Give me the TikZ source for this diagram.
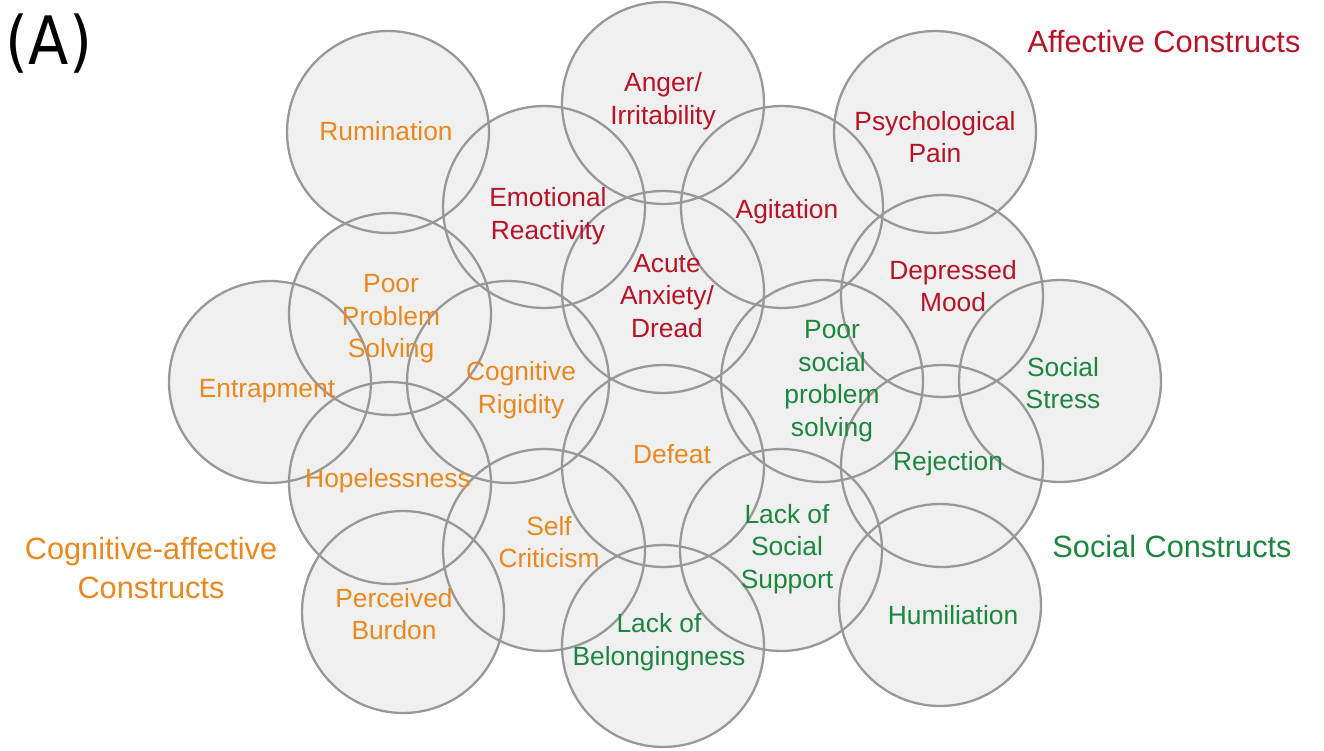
\documentclass[tikz,border=0pt]{standalone}
\usepackage{fontspec}
\setmainfont{Liberation Sans}
\newfontfamily\panelfont{DejaVu Sans}[FakeStretch=0.88]
\usetikzlibrary{positioning, backgrounds}

\definecolor{affred}{RGB}{184,18,38}
\definecolor{cogorange}{RGB}{234,136,32}
\definecolor{socgreen}{RGB}{28,134,62}
\definecolor{ringgray}{RGB}{152,152,152}
\definecolor{bubblefill}{RGB}{240,240,240}

\begin{document}
\begin{tikzpicture}[x=0.02cm, y=-0.02cm,
    bubble/.style={circle, draw=ringgray, line width=1.3pt, minimum size=4.04cm, inner sep=0pt},
    afftxt/.style={text=affred, align=center, font=\fontsize{15}{18.5}\selectfont},
    cogtxt/.style={text=cogorange, align=center, font=\fontsize{15}{18.5}\selectfont},
    soctxt/.style={text=socgreen, align=center, font=\fontsize{15}{18.5}\selectfont},
    grouptxt/.style={align=center, font=\fontsize{17.5}{22}\selectfont}]
    \useasboundingbox (0,0) rectangle (1324,750);

    % circles
    \node[bubble] (rum) at (388,132) {};
    \node[bubble] (ang) at (663,103) {};
    \node[bubble] (psy) at (935,132) {};
    \node[bubble] (emo) at (544,207) {};
    \node[bubble] (agi) at (782,207) {};
    \node[bubble] (anx) at (663,292) {};
    \node[bubble] (dep) at (942,296) {};
    \node[bubble] (pps) at (390,314) {};
    \node[bubble] (rig) at (508,382) {};
    \node[bubble] (ent) at (270,382) {};
    \node[bubble] (psp) at (822,381) {};
    \node[bubble] (str) at (1060,381) {};
    \node[bubble] (def) at (663,466) {};
    \node[bubble] (rej) at (942,466) {};
    \node[bubble] (hop) at (390,483) {};
    \node[bubble] (sel) at (544,550) {};
    \node[bubble] (sup) at (781,550) {};
    \node[bubble] (bur) at (403,612) {};
    \node[bubble] (bel) at (663,646) {};
    \node[bubble] (hum) at (940,605) {};

    \begin{scope}[on background layer]
      \foreach \c in {rum,ang,psy,emo,agi,anx,dep,pps,rig,ent,psp,str,def,rej,hop,sel,sup,bur,bel,hum}
        \fill[bubblefill] (\c.center) circle[radius=2.02cm];
    \end{scope}

    % affective
    \node[afftxt] (angt) at (663,101) {Anger/\\Irritability};
    \node[afftxt] (psyt) at (935,137) {Psychological\\Pain};
    \node[afftxt] (emot) at (548,216) {Emotional\\Reactivity};
    \node[afftxt] (agit) at (787,212) {Agitation};
    \node[afftxt] (anxt) at (667,296) {Acute\\Anxiety/\\Dread};
    \node[afftxt] (dept) at (953,286) {Depressed\\Mood};

    % cognitive-affective
    \node[cogtxt] (rumt) at (386,131) {Rumination};
    \node[cogtxt] (ppst) at (391,319) {Poor\\Problem\\Solving};
    \node[cogtxt] (rigt) at (521,390) {Cognitive\\Rigidity};
    \node[cogtxt] (entt) at (267,391) {Entrapment};
    \node[cogtxt] (deft) at (672,454) {Defeat};
    \node[cogtxt] (hopt) at (388,481) {Hopelessness};
    \node[cogtxt] (selt) at (549,542) {Self\\Criticism};
    \node[cogtxt] (burt) at (394,614) {Perceived\\Burdon};

    % social
    \node[soctxt] (pspt) at (832,381) {Poor\\social\\problem\\solving};
    \node[soctxt] (strt) at (1063,383) {Social\\Stress};
    \node[soctxt] (rejt) at (948,464) {Rejection};
    \node[soctxt] (supt) at (787,549) {Lack of\\Social\\Support};
    \node[soctxt] (belt) at (659,642) {Lack of\\Belongingness};
    \node[soctxt] (humt) at (953,615) {Humiliation};

    % group labels
    \node[grouptxt, text=affred] (affg) at (1164,42) {Affective Constructs};
    \node[grouptxt, text=cogorange] (cogg) at (151,568) {Cognitive-affective\\Constructs};
    \node[grouptxt, text=socgreen] (socg) at (1172,547) {Social Constructs};
    \node[font=\panelfont\fontsize{38}{44}\selectfont] (panel) at (49,44) {(A)};
\end{tikzpicture}
\end{document}
